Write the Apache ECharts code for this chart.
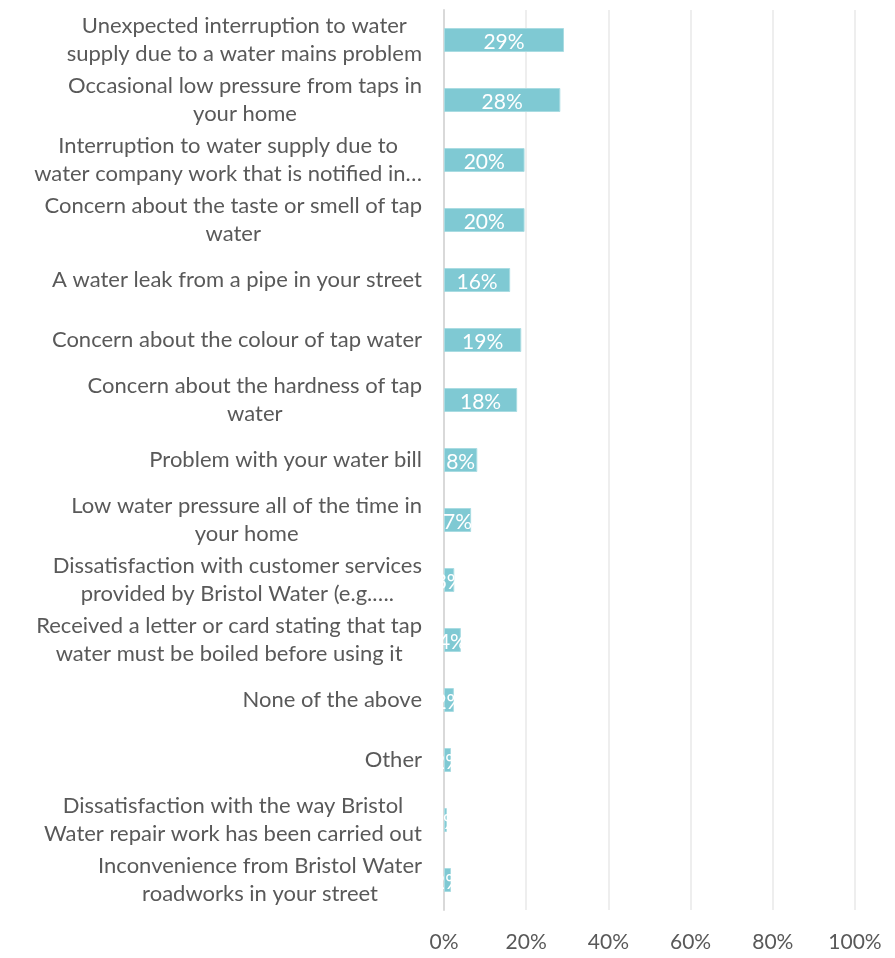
<!DOCTYPE html>
<html>
<head>
<meta charset="utf-8">
<script src="https://cdn.jsdelivr.net/npm/echarts@6/dist/echarts.min.js"></script>
<style>
  html, body { margin: 0; padding: 0; background: #fff; }
  #chart { width: 895px; height: 958px; }
</style>
</head>
<body>
<div id="chart"></div>
<script>
// Survey answers (top to bottom) and share of respondents, in percent
const categories = [
  'Unexpected interruption to water\nsupply due to a water mains problem',
  'Occasional low pressure from taps in\nyour home',
  'Interruption to water supply due to\nwater company work that is notified in…',
  'Concern about the taste or smell of tap\nwater',
  'A water leak from a pipe in your street',
  'Concern about the colour of tap water',
  'Concern about the hardness of tap\nwater',
  'Problem with your water bill',
  'Low water pressure all of the time in\nyour home',
  'Dissatisfaction with customer services\nprovided by Bristol Water (e.g.….',
  'Received a letter or card stating that tap\nwater must be boiled before using it',
  'None of the above',
  'Other',
  'Dissatisfaction with the way Bristol\nWater repair work has been carried out',
  'Inconvenience from Bristol Water\nroadworks in your street'
];
const values = [29.2, 28.3, 19.6, 19.6, 16.1, 18.8, 17.8, 8.1, 6.6, 2.5, 4.1, 2.4, 1.7, 0.7, 1.7];
const xTicks = [0, 20, 40, 60, 80, 100];

const FONT = 'Lato, "Open Sans", sans-serif';
const TEXT = '#595959';

const chart = echarts.init(document.getElementById('chart'));
chart.setOption({
  animation: false,
  backgroundColor: '#ffffff',
  grid: { left: 444, right: 40, top: 10, bottom: 48, containLabel: false },
  xAxis: {
    type: 'value',
    min: xTicks[0],
    max: xTicks[xTicks.length - 1],
    interval: xTicks[1] - xTicks[0],
    axisLine: { show: false },
    axisTick: { show: false },
    splitLine: { show: true, lineStyle: { color: '#e8e8e8', width: 1.5 } },
    axisLabel: {
      color: TEXT, fontFamily: FONT, fontSize: 21, margin: 22,
      formatter: v => v + '%'
    }
  },
  yAxis: {
    type: 'category',
    inverse: true,
    data: categories,
    axisLine: { show: true, lineStyle: { color: '#d9d9d9', width: 2 } },
    axisTick: { show: false },
    axisLabel: {
      margin: 22,
      align: 'right',
      color: TEXT, fontFamily: FONT, fontSize: 22, lineHeight: 28,
      formatter: v => v.split('\n').map(s => '{c|' + s + '}').join('\n'),
      rich: {
        c: { align: 'center', color: TEXT, fontFamily: FONT, fontSize: 22, lineHeight: 28 }
      }
    }
  },
  series: [{
    type: 'bar',
    data: values,
    barWidth: '40%',
    itemStyle: { color: '#7fc9d3', borderColor: '#a9dce2', borderWidth: 1 },
    label: {
      show: true,
      position: 'inside',
      color: '#ffffff',
      fontFamily: FONT,
      fontSize: 21,
      offset: [0, 2],
      formatter: p => Math.round(p.value) + '%'
    }
  }]
});
</script>
</body>
</html>
